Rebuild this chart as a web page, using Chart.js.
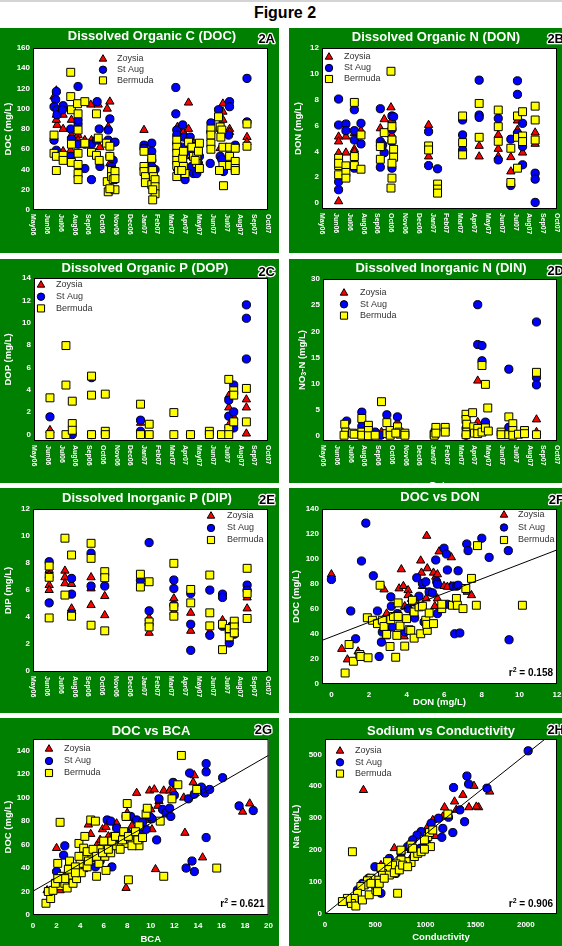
<!DOCTYPE html>
<html>
<head>
<meta charset="utf-8">
<script src="https://cdn.jsdelivr.net/npm/chart.js@4.4.1/dist/chart.umd.min.js"></script>
<style>
    body{margin:0;width:562px;height:946px;overflow:hidden;background:#fff;position:relative;font-family:"Liberation Sans",Arial,sans-serif;}
    #topline{position:absolute;left:0;top:0;width:562px;height:2px;background:#d4d4d4;}
    #fig{position:absolute;left:0;top:4px;width:570px;text-align:center;font-weight:bold;font-size:16px;line-height:18px;color:#000;}
    canvas{position:absolute;}
</style>
</head>
<body>
<div id="topline"></div>
<div id="fig">Figure 2</div>
<canvas id="cA" width="279" height="225" style="left:0;top:28px"></canvas>
<canvas id="cB" width="279" height="225" style="left:289px;top:28px"></canvas>
<canvas id="cC" width="279" height="224" style="left:0;top:259px"></canvas>
<canvas id="cD" width="279" height="224" style="left:289px;top:259px"></canvas>
<canvas id="cE" width="279" height="225" style="left:0;top:488px"></canvas>
<canvas id="cF" width="279" height="225" style="left:289px;top:488px"></canvas>
<canvas id="cG" width="279" height="228" style="left:0;top:718px"></canvas>
<canvas id="cH" width="279" height="228" style="left:289px;top:718px"></canvas>
<script>
// Data

    // months on the time axis (x = month index from May06)
    const months = ['May06','Jun06','Jul06','Aug06','Sep06','Oct06','Nov06','Dec06','Jan07','Feb07','Mar07','Apr07','May07','Jun07','Jul07','Aug07','Sep07','Oct07'];
    const legendNames = ['Zoysia', 'St Aug', 'Bermuda'];

    // tick labels
    const docTicks = [0,20,40,60,80,100,120,140,160];
    const donTicks = [0,2,4,6,8,10,12];
    const dopTicks = [0,2,4,6,8,10,12,14];
    const dinTicks = [0,5,10,15,20,25,30];
    const dipTicks = [0,2,4,6,8,10,12];
    const docTicks2 = [0,20,40,60,80,100,120,140];
    const bcaTicks = [0,2,4,6,8,10,12,14,16,18,20];
    const naTicks = [0,100,200,300,400,500];
    const condTicks = [0,500,1000,1500,2000];

    // 2A DOC by date [month, mg/L]
    const docZoysia = [[1.52,112],[1.69,118],[1.69,94],[1.74,84],[1.69,89],[2.18,94],[2.18,80],[2.18,58],[2.78,89],[2.78,74],[2.73,59],[3.26,74],[3.26,69],[4.18,104],[3.75,69],[4.23,69],[4.72,104],[4.84,62],[5.37,100],[5.56,107],[5.44,82],[5.44,66],[5.56,46],[8.03,79],[8.59,36],[10.45,82],[10.45,41],[10.88,77],[11.0,53],[11.25,106],[11.25,80],[11.49,69],[11.73,59],[12.87,71],[13.74,105],[13.74,97],[13.74,89],[13.54,61],[14.22,80],[14.22,77],[15.48,72],[15.48,67]];
    const docStAug = [[1.69,117],[1.64,109],[1.52,102],[1.74,99],[1.74,94],[1.52,69],[1.69,59],[2.18,103],[2.13,99],[3.26,122],[2.73,80],[2.78,70],[2.73,53],[3.26,85],[3.26,89],[3.26,65],[3.75,65],[3.75,41],[4.23,65],[4.23,30],[4.64,107],[4.79,80],[4.84,43],[4.59,69],[5.44,79],[5.44,69],[5.56,90],[5.56,53],[5.93,67],[5.80,49],[5.68,43],[8.03,64],[8.03,61],[8.59,66],[8.59,58],[8.59,49],[8.83,40],[8.59,43],[10.33,121],[10.33,95],[10.40,79],[10.40,74],[10.40,66],[10.83,84],[10.93,72],[11.0,30],[10.83,62],[11.25,58],[11.49,43],[11.61,36],[11.85,36],[11.97,46],[12.04,53],[11.37,72],[12.87,86],[12.82,46],[12.87,77],[13.42,99],[13.54,80],[13.54,53],[13.66,50],[13.78,38],[14.22,107],[14.22,102],[14.15,74],[14.63,64],[15.48,130],[15.48,87]];
    const docBermuda = [[1.52,74],[1.52,56],[1.69,53],[1.69,39],[2.18,54],[2.18,49],[2.73,136],[2.73,112],[2.78,99],[2.78,65],[2.78,47],[3.22,105],[3.26,95],[3.26,79],[3.26,56],[3.26,45],[3.26,36],[3.26,30],[3.75,107],[3.75,66],[4.23,57],[4.59,95],[4.72,71],[4.59,54],[4.79,49],[5.32,66],[5.37,28],[5.44,18],[5.56,53],[5.56,63],[5.68,39],[5.68,33],[5.80,30],[5.93,38],[5.93,31],[5.93,20],[5.56,21],[8.03,58],[8.03,43],[8.03,38],[8.13,33],[8.13,27],[8.59,51],[8.66,39],[8.71,33],[8.59,25],[8.83,30],[8.83,23],[8.83,16],[8.66,20],[8.66,10],[10.40,69],[10.40,62],[10.40,56],[10.40,49],[10.40,44],[10.40,33],[10.52,39],[10.83,51],[10.88,43],[11.0,36],[10.76,39],[10.88,58],[11.25,67],[11.49,62],[11.61,53],[11.85,53],[11.85,46],[11.97,58],[12.04,41],[12.04,66],[11.73,49],[12.87,80],[12.87,74],[12.87,66],[12.87,60],[13.42,92],[13.54,82],[13.66,79],[13.74,62],[13.74,44],[13.78,24],[13.49,39],[14.22,62],[14.22,53],[14.22,44],[13.59,72],[14.63,61],[14.63,48],[14.63,41],[14.63,39],[15.48,85],[15.48,63]];

    // 2B DON by date
    const donZoysia = [[1.2,5.14],[1.2,4.76],[1.2,3.86],[1.2,0.13],[1.73,5.14],[1.73,3.9],[2.34,5.4],[2.34,4.16],[2.34,3.98],[2.82,5.6],[4.22,5.78],[4.22,4.63],[4.5,6.48],[4.99,7.4],[5.06,6.43],[5.06,5.27],[7.71,6.04],[7.71,3.6],[11.37,4.42],[11.37,3.6],[12.75,5.27],[12.75,4.19],[12.75,3.6],[13.66,3.55],[13.66,2.44],[14.14,6.38],[14.14,5.66],[14.51,3.9],[15.42,5.45],[15.42,4.58]];
    const donStAug = [[1.2,8.05],[1.2,6.04],[1.2,1.65],[1.2,1.03],[1.73,6.12],[1.73,5.6],[2.34,7.22],[2.34,5.6],[2.34,4.88],[2.34,2.7],[2.82,6.17],[2.82,4.58],[4.22,7.3],[4.22,4.76],[4.22,2.78],[4.5,3.9],[4.39,4.5],[5.06,6.74],[5.06,5.7],[5.06,4.76],[5.06,2.7],[5.18,6.68],[7.71,5.53],[7.71,2.9],[8.36,2.65],[10.17,6.43],[10.17,5.27],[10.17,4.11],[11.37,9.51],[11.37,6.81],[11.37,6.63],[12.75,6.55],[12.75,3.34],[13.66,4.94],[13.66,1.36],[14.14,9.46],[14.14,8.41],[14.14,5.4],[14.51,6.17],[14.51,4.37],[14.51,2.96],[15.42,2.31],[15.42,1.85],[15.42,0.05]];
    const donBermuda = [[1.2,3.47],[1.2,2.9],[1.2,2.19],[1.2,3.08],[1.73,2.88],[1.73,2.37],[1.73,1.93],[2.34,7.79],[2.34,3.6],[2.34,2.9],[2.82,5.27],[2.82,2.62],[4.22,4.37],[4.22,3.39],[4.5,5.45],[4.99,10.2],[5.06,5.91],[5.06,4.88],[5.18,4.16],[5.18,3.55],[5.06,3.08],[5.06,1.93],[4.99,1.16],[7.71,4.42],[7.71,4.11],[8.36,1.47],[8.36,1.08],[8.36,0.77],[10.17,6.74],[10.17,4.68],[10.17,3.73],[11.37,7.71],[11.37,5.09],[12.75,7.2],[12.75,5.91],[12.75,4.78],[13.66,4.24],[13.66,1.59],[14.14,6.74],[14.14,5.09],[14.14,2.7],[14.51,7.07],[14.51,5.19],[14.51,4.76],[15.42,7.5],[15.42,6.43],[15.42,4.88]];

    // 2C DOP by date
    const dopZoysia = [[1.16,0.4],[5.18,0],[7.74,1.05],[14.15,3.47],[14.15,2.42],[14.15,0.84],[14.51,1.59],[15.43,3.14],[15.43,2.42],[15.43,0.09]];
    const dopStAug = [[1.16,1.59],[2.78,0],[4.18,5.09],[4.18,0],[7.74,1.29],[7.74,0.3],[11.37,0],[14.15,3.08],[14.15,1.65],[14.51,4.43],[14.51,2.03],[14.51,0.6],[15.43,11.6],[15.43,10.4],[15.43,6.76]];
    const dopBermuda = [[1.16,3.29],[1.16,0],[2.32,7.96],[2.32,4.43],[2.32,0],[2.78,2.99],[2.78,0.99],[2.78,0.39],[4.18,5.23],[4.18,3.53],[4.18,0],[5.18,3.62],[5.18,0.3],[5.18,0],[7.74,2.72],[7.74,0],[8.37,0.93],[8.37,0],[10.16,1.97],[10.16,0],[11.37,0],[12.74,0.3],[12.74,0],[13.62,0],[14.15,4.94],[14.15,0.54],[14.15,0],[14.51,3.92],[14.51,3.53],[14.51,1.14],[15.43,4.13],[15.43,1.14]];

    // 2D DIN (NO3-N) by date
    const dinZoysia = [[4.25,0.8],[5.41,2.7],[11.24,10.6],[11.24,2.7],[15.51,3.2],[15.51,0.8]];
    const dinStAug = [[1.72,2.9],[2.82,4.6],[2.82,1.9],[3.79,0.8],[4.2,0.2],[4.64,4.1],[5.41,3.7],[10.39,1.5],[10.39,0.2],[11.24,25.1],[11.24,17.5],[11.55,17.3],[11.55,14.4],[11.8,2.7],[13.5,12.8],[13.5,1.7],[15.51,21.8],[15.51,11.2],[15.51,9.8]];
    const dinBermuda = [[1.58,2.3],[1.65,0.8],[1.53,0.2],[2.14,0.6],[2.26,0.4],[2.82,3.4],[2.82,0.8],[2.82,0.2],[3.3,2.1],[3.3,1.1],[3.3,0.1],[3.79,0.2],[4.25,6.6],[4.64,2.6],[4.64,0.5],[4.88,1.1],[4.88,0.2],[5.41,1.8],[5.53,0.8],[5.61,0.4],[5.29,0.6],[5.95,0.6],[5.95,0.2],[8.08,0.4],[8.16,0.8],[8.08,0.2],[8.2,1.7],[8.2,0.6],[8.88,1.7],[8.88,0.8],[10.39,4.2],[10.39,3.2],[10.44,2.3],[10.44,0.8],[10.39,0.3],[10.87,4.5],[10.95,1.8],[11.0,0.6],[11.24,1.5],[11.24,0.5],[11.55,13.5],[11.55,0.8],[11.8,9.9],[11.97,5.4],[11.8,1.6],[12.01,1.0],[12.94,0.8],[12.94,0.3],[13.5,3.7],[13.5,0.3],[13.79,2.4],[13.79,1.1],[13.79,0.2],[14.2,0.4],[14.64,1.1],[14.64,0.5],[15.51,12.2],[15.51,0.3]];

    // 2E DIP by date
    const dipZoysia = [[1.17,7.46],[1.17,7.09],[1.17,6.34],[1.17,5.97],[2.31,7.41],[2.31,6.92],[2.31,6.47],[2.79,6.42],[2.79,4.6],[4.2,6.92],[4.2,6.09],[4.2,4.85],[5.19,5.52],[5.19,4.1],[8.4,3.9],[8.4,2.79],[10.19,5.35],[10.19,4.35],[11.41,4.28],[11.41,2.94],[12.79,2.86],[13.71,3.73],[14.2,3.23],[14.2,2.36],[14.56,3.48],[15.49,5.42],[15.49,4.6]];
    const dipStAug = [[1.17,8.08],[1.17,5.02],[2.79,6.84],[2.79,5.67],[2.79,4.23],[4.2,8.71],[4.2,6.27],[5.19,6.27],[7.77,6.7],[8.4,9.5],[8.4,4.43],[10.19,6.72],[10.19,6.09],[10.19,4.85],[11.41,5.72],[11.41,3.43],[11.41,1.49],[12.79,5.97],[12.79,2.61],[13.71,5.67],[13.71,5.42],[13.71,3.28],[14.2,2.04],[14.2,2.86],[14.56,2.69],[14.56,3.48],[15.49,6.34],[15.49,5.97]];
    const dipBermuda = [[1.17,7.76],[1.17,6.92],[1.17,3.9],[2.31,9.83],[2.31,5.6],[2.79,8.58],[2.79,4.03],[4.2,9.45],[4.2,8.33],[4.2,3.36],[5.19,7.34],[5.19,6.89],[5.19,2.94],[7.77,7.15],[7.77,6.2],[8.4,6.59],[8.4,3.6],[8.4,3.23],[10.19,7.96],[10.19,4.73],[10.19,4.03],[11.41,6.02],[11.41,5.02],[12.79,7.09],[12.79,4.28],[12.79,3.31],[13.71,1.54],[13.71,3.43],[14.2,3.11],[14.2,2.49],[14.56,3.66],[14.56,3.23],[14.56,2.79],[15.49,7.59],[15.49,5.72],[15.49,3.86]];

    // 2F DOC vs DON [DON, DOC]
    const ddZoysia = [[0,87.7],[0.55,28],[0.85,19.6],[1.42,26],[2.8,75.6],[2.89,38],[2.94,56.3],[3.72,91.7],[3.6,76.4],[3.83,78.3],[3.9,62.2],[4.08,75],[3.87,38],[4.08,71],[4.26,68],[4.4,65],[4.57,64.3],[4.75,98.7],[4.79,89],[5.04,68.4],[5.07,118.5],[5.1,92.5],[4.84,78.3],[5.43,89],[5.5,62.2],[5.55,85.8],[5.64,87.7],[5.64,68.4],[5.73,106],[5.99,78.3],[6.35,78.3],[6.38,101.3],[6.17,77.7],[6.52,77.7],[7.23,73.7],[7.45,71]];
    const ddStAug = [[0,83.6],[1.03,58.4],[1.29,36.2],[1.6,98.4],[1.83,128.7],[2.23,86.6],[2.45,58.4],[2.54,22],[2.66,33.5],[2.71,41.6],[2.94,42.9],[3.16,69.7],[3.19,62.2],[3.24,45.6],[3.51,56.3],[3.9,41.6],[4.08,60.3],[4.36,55],[4.43,52.8],[4.54,85],[4.66,70.2],[4.84,80.4],[4.93,49.6],[5.02,81.8],[5.2,73.7],[5.37,73],[5.55,99.2],[5.6,81.8],[5.64,79.9],[5.64,56.3],[5.99,108.6],[6.12,104],[6.17,91.2],[6.17,63.8],[6.49,78.3],[6.67,78.3],[6.56,40.2],[6.74,90.6],[6.83,40.8],[6.74,79],[7.2,112],[7.27,106.7],[8.0,116.6],[8.39,101.3],[9.41,106.7],[9.45,35.4]];
    const ddBermuda = [[0.73,8.8],[0.94,31.6],[1.17,18.2],[1.51,23.6],[1.56,22],[1.91,53],[1.95,21],[2.18,51],[2.45,48.3],[2.59,79],[2.71,51],[2.8,46],[2.94,39.7],[3.12,30],[3.16,51.5],[3.3,54],[3.42,21.4],[3.48,38.9],[3.55,64.9],[3.55,54],[3.65,46.4],[3.9,30.3],[4.0,52.3],[4.13,43.4],[4.22,42.9],[4.31,67],[4.4,57.6],[4.4,36.7],[4.66,61.7],[4.75,40.2],[4.84,62.2],[5.02,51],[5.1,42.9],[5.07,47.7],[5.2,56.8],[5.43,48.3],[5.87,60.3],[5.87,63.8],[6.44,63],[6.65,68.4],[6.7,63],[7.0,60.3],[7.15,76.4],[7.45,84.5],[7.71,63],[7.77,110.7],[10.16,63]];

    // 2G DOC vs BCA [BCA, DOC]
    const dbZoysia = [[1.2,21],[2,57],[4.7,77],[4.9,69],[5.7,64],[5.9,73],[6.2,75],[7.1,78],[7.9,23],[8,87],[8.8,104],[9.7,90],[9.9,106],[10.3,107],[10.1,73],[10.4,39],[10.6,93],[10.7,97],[11.1,106],[11.6,106],[11.9,106],[12.8,100],[12.9,70],[13.6,113],[13.7,119],[14.4,49],[17.8,88],[18.4,95],[2.3,21],[2.9,30],[4.3,39],[5.1,50],[5.4,59],[6.4,67],[7,61],[7.6,70],[8.1,63],[8.4,76],[9.1,67],[9.7,81],[10,90]];
    const dbStAug = [[2,37],[2.6,51],[2.7,59],[6.3,81],[6.6,80],[6.7,41],[7.1,74],[7.9,84],[8.3,84],[8.8,81],[9.1,73],[9.6,73],[10.1,82],[10.5,64],[10.7,99],[11,90],[11.3,87],[11.6,91],[11.9,113],[12,102],[11.7,84],[13,40],[13.2,99],[13.3,121],[13.5,46],[13.7,37],[13.7,103],[14.3,109],[14.6,104],[14.7,122],[14.7,129],[14.7,66],[15,107],[16.1,117],[17.5,93],[18.7,89],[5.7,46],[5.3,41],[7.4,63],[8,70],[8.6,66],[9.3,79],[9.9,84]];
    const dbBermuda = [[1.1,10],[1.5,14],[2.1,44],[2.3,79],[2.3,25],[2.7,27],[2.9,23],[3.3,34],[3.4,27],[3.7,31],[3.9,61],[4,44],[4.1,36],[4.4,50],[4.4,67],[4.6,41],[4.9,81],[5,49],[5.3,80],[5.4,33],[5.6,44],[5.7,56],[6.1,50],[6.2,38],[6.3,60],[6.6,53],[6.9,67],[7.1,59],[7.5,61],[7.7,71],[7.9,61],[7.9,84],[8,95],[8.1,30],[8.4,64],[8.9,63],[9,76],[9,59],[9.6,86],[9.7,91],[10.8,80],[11.1,33],[11.8,99],[12.3,111],[12.6,136],[13.9,107],[15.6,40],[1.3,20],[1.7,21],[1.9,27],[2.4,33],[3,39],[3.1,46],[3.6,41],[3.9,50],[4.3,57],[4.6,54],[4.7,46],[5.1,56],[5.4,50],[5.9,53],[6,63],[6.4,56],[6.7,63],[7,67],[7.4,56],[7.6,64],[8.1,67],[8.4,59],[8.7,71],[8.9,64],[9.3,66],[3.6,36],[2.7,31],[2.1,31]];

    // 2H Na vs conductivity [conductivity, Na]
    const ncZoysia = [[383,388],[1290,352],[1373,373],[1483,401],[1640,383],[1530,334],[1507,336],[1433,334],[1190,334],[1073,294],[1097,244],[1307,326],[923,200],[690,206],[557,153],[857,200],[873,185],[1173,305],[1023,273],[757,180]];
    const ncStAug = [[2023,511],[1413,432],[1430,407],[1280,396],[1613,394],[1390,289],[1343,326],[1130,300],[1173,268],[1163,240],[1273,255],[957,258],[950,206],[1007,227],[917,247],[557,65],[373,96],[497,148],[640,174],[707,127],[823,211],[873,232],[757,190],[323,75],[1057,284],[1230,303],[433,112],[557,138]];
    const ncBermuda = [[273,195],[723,65],[1050,211],[857,161],[807,164],[757,169],[707,157],[673,153],[623,143],[573,127],[523,106],[457,112],[423,104],[390,91],[357,86],[323,65],[290,49],[263,33],[223,49],[173,39],[307,25],[373,44],[440,60],[507,75],[507,91],[540,96],[523,70],[457,96],[640,122],[590,112],[690,129],[740,138],[773,153],[823,148],[890,180],[923,190],[957,195],[990,203],[1023,242],[1040,255],[990,232],[1073,263],[857,216],[757,200],[1223,313],[623,164],[557,146],[873,206]];

    // regression lines
    const fitF = {slope: 5.79, intercept: 37.8, r2: '0.158'};
    const fitG = {slope: 5.79, intercept: 20.3, r2: '0.621'};
    const fitH = {slope: 0.25, intercept: 0, r2: '0.906'};

// Drawing

    const FONT = '"Liberation Sans", Arial, sans-serif';
    Chart.defaults.font.family = FONT;
    const marks = [
        {style: 'triangle', r: 4.8, color: '#ff0000', order: 3},
        {style: 'circle', r: 4.1, color: '#0000ff', order: 2},
        {style: 'rect', r: 5.6, color: '#ffff00', order: 1}
    ];

    function toXY(list){
        return list.map(p => ({x: p[0], y: p[1]}));
    }

    const panelPlugin = {
        id: 'panel',
        beforeDraw(chart){
            const ctx = chart.ctx, a = chart.chartArea;
            ctx.save();
            ctx.fillStyle = '#008000';
            ctx.fillRect(0, 0, chart.width, chart.height);
            ctx.fillStyle = '#fff';
            ctx.fillRect(a.left, a.top, a.right - a.left, a.bottom - a.top);
            ctx.restore();
        },
        beforeDatasetsDraw(chart){
            const ctx = chart.ctx, a = chart.chartArea;
            ctx.save();
            ctx.strokeStyle = '#000';
            ctx.lineWidth = 1;
            ctx.strokeRect(a.left + 0.5, a.top + 0.5, a.right - a.left - 1, a.bottom - a.top - 1);
            ctx.restore();
        },
        afterDraw(chart, args, o){
            const ctx = chart.ctx, a = chart.chartArea;
            ctx.save();
            // title and tag
            ctx.font = 'bold 13px ' + FONT;
            ctx.fillStyle = '#fff';
            ctx.textAlign = 'center';
            ctx.textBaseline = 'alphabetic';
            ctx.fillText(o.title, o.titleX, o.titleY);
            ctx.textAlign = 'right';
            ctx.lineJoin = 'round';
            ctx.lineWidth = 2.5;
            ctx.strokeStyle = '#fff';
            ctx.strokeText(o.tag, o.tagX, o.tagY);
            ctx.fillStyle = '#000';
            ctx.fillText(o.tag, o.tagX, o.tagY);

            // y axis title, may carry a subscript part
            const segs = typeof o.yTitle === 'string' ? [[o.yTitle, false]] : o.yTitle;
            const big = 'bold 9.5px ' + FONT, small = 'bold 7px ' + FONT;
            ctx.save();
            ctx.translate(o.yTitleX, (a.top + a.bottom) / 2);
            ctx.rotate(-Math.PI / 2);
            let total = 0;
            segs.forEach(s => { ctx.font = s[1] ? small : big; total += ctx.measureText(s[0]).width; });
            let cx = -total / 2;
            ctx.textAlign = 'left';
            ctx.textBaseline = 'middle';
            ctx.fillStyle = '#fff';
            segs.forEach(s => {
                ctx.font = s[1] ? small : big;
                ctx.fillText(s[0], cx, s[1] ? 2.5 : 0);
                cx += ctx.measureText(s[0]).width;
            });
            ctx.restore();

            // month labels, reading downwards
            if(o.months){
                const xs = chart.scales.x;
                ctx.font = 'bold 7px ' + FONT;
                ctx.fillStyle = '#fff';
                ctx.textAlign = 'left';
                ctx.textBaseline = 'middle';
                o.months.forEach((m, i) => {
                    ctx.save();
                    ctx.translate(xs.getPixelForValue(i), a.bottom + 4);
                    ctx.rotate(Math.PI / 2);
                    ctx.fillText(m, 0, 0);
                    ctx.restore();
                });
            }

            // x axis title
            if(o.xTitle){
                ctx.font = big;
                ctx.fillStyle = '#fff';
                ctx.textAlign = 'center';
                ctx.textBaseline = 'alphabetic';
                ctx.fillText(o.xTitle, (a.left + a.right) / 2, o.xTitleY);
            }

            // legend inside the plot
            const L = o.legend;
            marks.forEach((m, i) => {
                const yy = L.y + i * L.gap;
                ctx.fillStyle = m.color;
                ctx.strokeStyle = '#000';
                ctx.lineWidth = 1;
                Chart.helpers.drawPoint(ctx, {pointStyle: m.style, radius: m.r * 0.9, rotation: 0, borderWidth: 1}, L.x, yy);
                ctx.fillStyle = '#333';
                ctx.font = '9px ' + FONT;
                ctx.textAlign = 'left';
                ctx.textBaseline = 'middle';
                ctx.fillText(legendNames[i], L.tx, yy);
            });

            // r squared note
            if(o.r2){
                const f1 = 'bold 10px ' + FONT, f2 = 'bold 7px ' + FONT;
                const rest = ' = ' + o.r2;
                ctx.font = f1;
                const w1 = ctx.measureText('r').width, w3 = ctx.measureText(rest).width;
                ctx.font = f2;
                const w2 = ctx.measureText('2').width;
                let x = a.right - 4 - (w1 + w2 + w3);
                ctx.fillStyle = '#000';
                ctx.textAlign = 'left';
                ctx.textBaseline = 'alphabetic';
                ctx.font = f1;
                ctx.fillText('r', x, o.r2Y);
                x += w1;
                ctx.font = f2;
                ctx.fillText('2', x, o.r2Y - 4);
                x += w2;
                ctx.font = f1;
                ctx.fillText(rest, x, o.r2Y);
            }
            ctx.restore();
        }
    };

    function makePanel(id, cfg){
        const canvas = document.getElementById(id);
        const W = canvas.width, H = canvas.height;
        const p = cfg.plot; // left, top, right, bottom
        const sets = cfg.series.map((s, i) => ({
            label: legendNames[i],
            data: toXY(s),
            pointStyle: marks[i].style,
            pointRadius: marks[i].r,
            backgroundColor: marks[i].color,
            borderColor: '#000',
            borderWidth: 1,
            order: marks[i].order
        }));
        if(cfg.fit){
            const f = cfg.fit;
            sets.push({
                data: [{x: cfg.xMin, y: f.intercept + f.slope * cfg.xMin}, {x: cfg.xMax, y: f.intercept + f.slope * cfg.xMax}],
                showLine: true,
                pointRadius: 0,
                borderColor: '#000',
                borderWidth: 1,
                order: 0
            });
        }
        const tickFont = {size: 8, weight: 'bold', family: FONT};
        const xAxis = {
            type: 'linear', min: cfg.xMin, max: cfg.xMax,
            grid: {display: false, drawTicks: false},
            border: {display: false},
            afterFit: s => { s.height = H - p[3]; }
        };
        if(cfg.xTicks){
            xAxis.ticks = {color: '#fff', font: tickFont, padding: 6, maxRotation: 0, autoSkip: false, callback: v => String(v)};
            xAxis.afterBuildTicks = s => { s.ticks = cfg.xTicks.map(v => ({value: v})); };
        }else{
            xAxis.ticks = {display: false};
        }
        new Chart(canvas, {
            type: 'scatter',
            data: {datasets: sets},
            options: {
                responsive: false,
                animation: false,
                events: [],
                layout: {padding: {left: 0, top: p[1], right: W - p[2], bottom: 0}},
                scales: {
                    x: xAxis,
                    y: {
                        type: 'linear', min: cfg.yMin, max: cfg.yMax,
                        grid: {display: false, drawTicks: false},
                        border: {display: false},
                        ticks: {color: '#fff', font: tickFont, padding: 3, autoSkip: false, callback: v => String(v)},
                        afterBuildTicks: s => { s.ticks = cfg.yTicks.map(v => ({value: v})); },
                        afterFit: s => { s.width = p[0]; }
                    }
                },
                plugins: {
                    legend: {display: false},
                    tooltip: {enabled: false},
                    panel: {
                        title: cfg.title, titleX: cfg.titleX, titleY: cfg.titleY,
                        tag: cfg.tag, tagX: cfg.tagX || 275, tagY: cfg.tagY,
                        yTitle: cfg.yTitle, yTitleX: cfg.yTitleX,
                        xTitle: cfg.xTitle, xTitleY: cfg.xTitleY,
                        months: cfg.xTicks ? null : months,
                        legend: cfg.legend,
                        r2: cfg.fit ? cfg.fit.r2 : null, r2Y: cfg.r2Y
                    }
                }
            },
            plugins: [panelPlugin]
        });
    }

    makePanel('cA', {
        title: 'Dissolved Organic C (DOC)', titleX: 152, titleY: 12, tag: '2A', tagY: 15,
        plot: [33, 20, 268, 182], xMin: 0, xMax: 17, yMin: 0, yMax: 160, yTicks: docTicks,
        yTitle: 'DOC (mg/L)', yTitleX: 8,
        legend: {x: 103, y: 31, gap: 10.7, tx: 117},
        series: [docZoysia, docStAug, docBermuda]
    });
    makePanel('cB', {
        title: 'Dissolved Organic N (DON)', titleX: 147, titleY: 13, tag: '2B', tagY: 15,
        plot: [33, 20, 268, 181], xMin: 0, xMax: 17, yMin: -0.46, yMax: 12, yTicks: donTicks,
        yTitle: 'DON (mg/L)', yTitleX: 9,
        legend: {x: 40, y: 29, gap: 11, tx: 55},
        series: [donZoysia, donStAug, donBermuda]
    });
    makePanel('cC', {
        title: 'Dissolved Organic P (DOP)', titleX: 145, titleY: 13, tag: '2C', tagY: 17,
        plot: [34, 19, 268, 182], xMin: 0, xMax: 17, yMin: -0.57, yMax: 14, yTicks: dopTicks,
        yTitle: 'DOP (mg/L)', yTitleX: 8,
        legend: {x: 41, y: 26, gap: 11.7, tx: 56},
        series: [dopZoysia, dopStAug, dopBermuda]
    });
    makePanel('cD', {
        title: 'Dissolved Inorganic N (DIN)', titleX: 152, titleY: 13, tag: '2D', tagY: 16,
        plot: [34, 20, 268, 182], xMin: 0, xMax: 17, yMin: -0.9, yMax: 30, yTicks: dinTicks,
        yTitle: [['NO', false], ['3', true], ['-N (mg/L)', false]], yTitleX: 13,
        xTitle: 'Date', xTitleY: 229,
        legend: {x: 55, y: 34, gap: 11.3, tx: 71},
        series: [dinZoysia, dinStAug, dinBermuda]
    });
    makePanel('cE', {
        title: 'Dissolved Inorganic P (DIP)', titleX: 147, titleY: 14, tag: '2E', tagY: 16,
        plot: [33, 21, 268, 184], xMin: 0, xMax: 17, yMin: -0.12, yMax: 12, yTicks: dipTicks,
        yTitle: 'DIP (mg/L)', yTitleX: 8,
        legend: {x: 211, y: 28, gap: 12, tx: 227},
        series: [dipZoysia, dipStAug, dipBermuda]
    });
    makePanel('cF', {
        title: 'DOC vs DON', titleX: 151, titleY: 13, tag: '2F', tagY: 16,
        plot: [33, 21, 268, 196], xMin: -0.5, xMax: 12, xTicks: donTicks, yMin: 0, yMax: 140, yTicks: docTicks2,
        yTitle: 'DOC (mg/L)', yTitleX: 7, xTitle: 'DON (mg/L)', xTitleY: 217,
        legend: {x: 215, y: 27, gap: 12.5, tx: 229},
        series: [ddZoysia, ddStAug, ddBermuda], fit: fitF, r2Y: 188
    });
    makePanel('cG', {
        title: 'DOC vs BCA', titleX: 151, titleY: 17, tag: '2G', tagX: 272, tagY: 16,
        plot: [33, 21, 269, 197], xMin: 0, xMax: 20, xTicks: bcaTicks, yMin: 0, yMax: 150, yTicks: docTicks2,
        yTitle: 'DOC (mg/L)', yTitleX: 8, xTitle: 'BCA', xTitleY: 224,
        legend: {x: 49, y: 31, gap: 12, tx: 64},
        series: [dbZoysia, dbStAug, dbBermuda], fit: fitG, r2Y: 189
    });
    makePanel('cH', {
        title: 'Sodium vs Conductivity', titleX: 152, titleY: 17, tag: '2H', tagY: 16,
        plot: [36, 21, 268, 196], xMin: 0, xMax: 2310, xTicks: condTicks, yMin: 0, yMax: 548, yTicks: naTicks,
        yTitle: 'Na (mg/L)', yTitleX: 7, xTitle: 'Conductivity', xTitleY: 222,
        legend: {x: 51, y: 33, gap: 11.3, tx: 66},
        series: [ncZoysia, ncStAug, ncBermuda], fit: fitH, r2Y: 189
    });
</script>
</body>
</html>
